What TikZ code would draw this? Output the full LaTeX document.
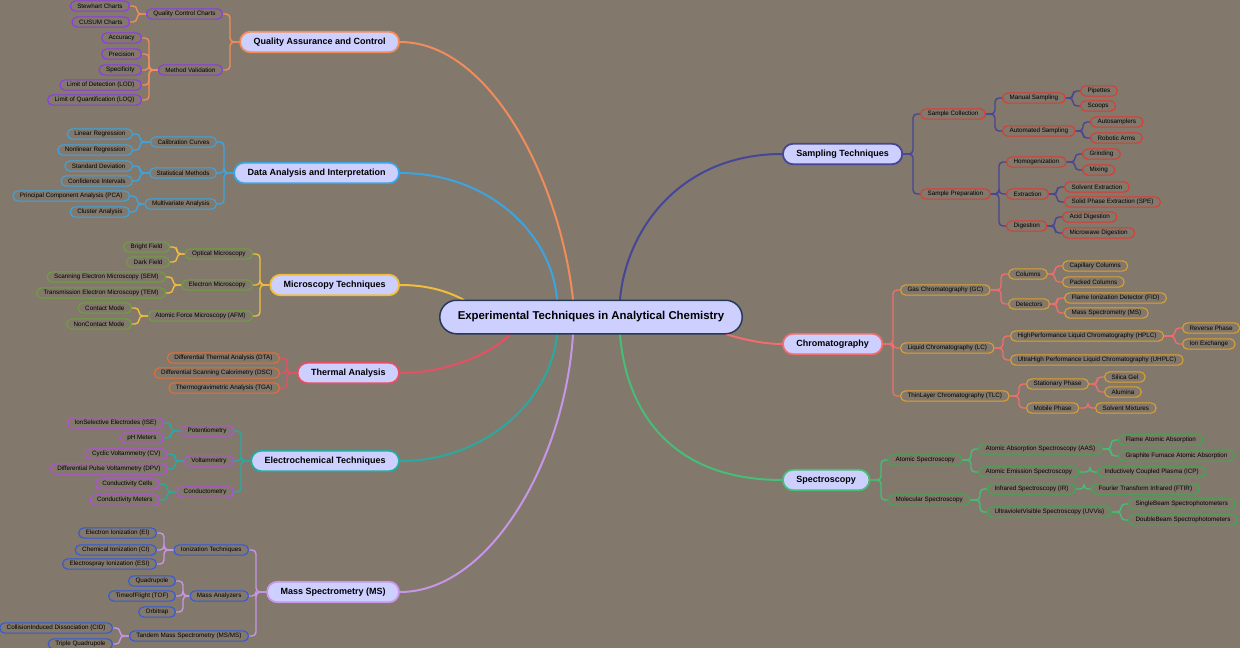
\documentclass[tikz,border=0pt]{standalone}
\usepackage{fontspec}
\setmainfont{Liberation Sans}
\usetikzlibrary{backgrounds}

\definecolor{paper}{RGB}{130,120,108}
\definecolor{topicfill}{RGB}{205,208,255}
\definecolor{rootline}{RGB}{38,58,88}
\definecolor{qaline}{RGB}{242,140,90}
\definecolor{qaitem}{RGB}{140,60,230}
\definecolor{daline}{RGB}{60,165,225}
\definecolor{mcline}{RGB}{240,190,60}
\definecolor{mcitem}{RGB}{110,160,60}
\definecolor{thline}{RGB}{230,80,100}
\definecolor{thitem}{RGB}{230,110,50}
\definecolor{ecline}{RGB}{40,170,160}
\definecolor{ecitem}{RGB}{180,80,220}
\definecolor{msline}{RGB}{200,150,230}
\definecolor{msitem}{RGB}{50,90,220}
\definecolor{saline}{RGB}{70,70,150}
\definecolor{saitem}{RGB}{220,60,50}
\definecolor{chline}{RGB}{240,110,110}
\definecolor{chitem}{RGB}{220,160,50}
\definecolor{spline}{RGB}{70,190,120}
\definecolor{spitem}{RGB}{60,170,80}

\tikzset{
	root/.style={draw=rootline, fill=topicfill, line width=1.5pt, rounded corners=16.7pt,
		minimum height=33.5pt, inner xsep=18pt, inner ysep=0pt, font=\fontsize{11.4}{13}\selectfont\bfseries},
	topic/.style={fill=topicfill, line width=1.8pt, rounded corners=10.2pt,
		minimum height=20.5pt, inner xsep=13.5pt, inner ysep=0pt, font=\fontsize{9}{10}\selectfont\bfseries},
	item/.style={line width=1.1pt, rounded corners=5.1pt, minimum height=10.3pt,
		inner xsep=7pt, inner ysep=0pt, font=\fontsize{6.3}{7}\selectfont, text=black},
	litem/.style={item, anchor=east},
	ritem/.style={item, anchor=west},
	qa/.style={litem, draw=qaitem},
	da/.style={litem, draw=daline},
	mc/.style={litem, draw=mcitem},
	th/.style={litem, draw=thitem},
	ec/.style={litem, draw=ecitem},
	ms/.style={litem, draw=msitem},
	sa/.style={ritem, draw=saitem},
	ch/.style={ritem, draw=chitem},
	sp/.style={ritem, draw=spitem},
	branch/.style={line width=2pt},
	elbow/.style={line width=1.4pt, rounded corners=4pt},
}

\begin{document}
\begin{tikzpicture}[x=1pt, y=-1pt]

	\useasboundingbox (0,0) rectangle (1240,648);

	% centre
	\node[root] (root) at (591,317) {Experimental Techniques in Analytical Chemistry};

	% Quality Assurance and Control
	\node[topic, draw=qaline, anchor=east] (qac) at (400,42) {Quality Assurance and Control};
	\node[qa] (qcc) at (223,14) {Quality Control Charts};
	\node[qa] (mval) at (223,70) {Method Validation};
	\node[qa] (stew) at (130,6) {Stewhart Charts};
	\node[qa] (cusum) at (130,22) {CUSUM Charts};
	\node[qa] (accu) at (142,38) {Accuracy};
	\node[qa] (prec) at (142,54) {Precision};
	\node[qa] (speci) at (142,70) {Specificity};
	\node[qa] (lod) at (142,85) {Limit of Detection (LOD)};
	\node[qa] (loq) at (142,100) {Limit of Quantification (LOQ)};

	% Data Analysis and Interpretation
	\node[topic, draw=daline, anchor=east] (dai) at (400,173) {Data Analysis and Interpretation};
	\node[da] (calib) at (217,142) {Calibration Curves};
	\node[da] (stat) at (217,173) {Statistical Methods};
	\node[da] (multi) at (217,204) {Multivariate Analysis};
	\node[da] (linreg) at (133,134) {Linear Regression};
	\node[da] (nonreg) at (133,150) {Nonlinear Regression};
	\node[da] (stdev) at (133,166) {Standard Deviation};
	\node[da] (confint) at (133,181) {Confidence Intervals};
	\node[da] (pca) at (130,196) {Principal Component Analysis (PCA)};
	\node[da] (cluster) at (130,212) {Cluster Analysis};

	% Microscopy Techniques
	\node[topic, draw=mcline, anchor=east] (micro) at (400,285) {Microscopy Techniques};
	\node[mc] (optic) at (253,254) {Optical Microscopy};
	\node[mc] (elmic) at (253,285) {Electron Microscopy};
	\node[mc] (afm) at (253,316) {Atomic Force Microscopy (AFM)};
	\node[mc] (bright) at (170,247) {Bright Field};
	\node[mc] (dark) at (170,262) {Dark Field};
	\node[mc] (sem) at (166,277) {Scanning Electron Microscopy (SEM)};
	\node[mc] (tem) at (166,293) {Transmission Electron Microscopy (TEM)};
	\node[mc] (contact) at (132,308) {Contact Mode};
	\node[mc] (noncontact) at (132,324) {NonContact Mode};

	% Thermal Analysis
	\node[topic, draw=thline, anchor=east] (thermal) at (400,373) {Thermal Analysis};
	\node[th] (dta) at (280,358) {Differential Thermal Analysis (DTA)};
	\node[th] (dsc) at (280,373) {Differential Scanning Calorimetry (DSC)};
	\node[th] (tga) at (280,388) {Thermogravimetric Analysis (TGA)};

	% Electrochemical Techniques
	\node[topic, draw=ecline, anchor=east] (electro) at (400,461) {Electrochemical Techniques};
	\node[ec] (potent) at (234,431) {Potentiometry};
	\node[ec] (voltam) at (234,461) {Voltammetry};
	\node[ec] (conduct) at (234,492) {Conductometry};
	\node[ec] (ise) at (164,423) {IonSelective Electrodes (ISE)};
	\node[ec] (phm) at (164,438) {pH Meters};
	\node[ec] (cv) at (168,454) {Cyclic Voltammetry (CV)};
	\node[ec] (dpv) at (168,469) {Differential Pulse Voltammetry (DPV)};
	\node[ec] (ccells) at (160,484) {Conductivity Cells};
	\node[ec] (cmeters) at (160,500) {Conductivity Meters};

	% Mass Spectrometry
	\node[topic, draw=msline, anchor=east] (mass) at (400,592) {Mass Spectrometry (MS)};
	\node[ms] (ionize) at (249,550) {Ionization Techniques};
	\node[ms] (analyz) at (249,596) {Mass Analyzers};
	\node[ms] (tandem) at (249,636) {Tandem Mass Spectrometry (MS/MS)};
	\node[ms] (ei) at (157,533) {Electron Ionization (EI)};
	\node[ms] (ci) at (157,550) {Chemical Ionization (CI)};
	\node[ms] (esi) at (157,564) {Electrospray Ionization (ESI)};
	\node[ms] (quad) at (176,581) {Quadrupole};
	\node[ms] (tof) at (176,596) {TimeofFlight (TOF)};
	\node[ms] (orbi) at (176,612) {Orbitrap};
	\node[ms] (cid) at (113,628) {CollisionInduced Dissociation (CID)};
	\node[ms] (triple) at (113,644) {Triple Quadrupole};

	% Sampling Techniques
	\node[topic, draw=saline, anchor=west] (sampling) at (782,154) {Sampling Techniques};
	\node[sa] (scoll) at (920,114) {Sample Collection};
	\node[sa] (sprep) at (920,194) {Sample Preparation};
	\node[sa] (manual) at (1002,98) {Manual Sampling};
	\node[sa] (auto) at (1002,131) {Automated Sampling};
	\node[sa] (pipet) at (1080,91) {Pipettes};
	\node[sa] (scoop) at (1080,106) {Scoops};
	\node[sa] (autosam) at (1090,122) {Autosamplers};
	\node[sa] (robot) at (1090,138) {Robotic Arms};
	\node[sa] (homog) at (1006,162) {Homogenization};
	\node[sa] (extract) at (1006,194) {Extraction};
	\node[sa] (digest) at (1006,226) {Digestion};
	\node[sa] (grind) at (1082,154) {Grinding};
	\node[sa] (mix) at (1082,170) {Mixing};
	\node[sa] (solvext) at (1064,187) {Solvent Extraction};
	\node[sa] (spe) at (1064,202) {Solid Phase Extraction (SPE)};
	\node[sa] (acid) at (1062,217) {Acid Digestion};
	\node[sa] (mwave) at (1062,233) {Microwave Digestion};

	% Chromatography
	\node[topic, draw=chline, anchor=west] (chrom) at (782,344) {Chromatography};
	\node[ch] (gc) at (900,290) {Gas Chromatography (GC)};
	\node[ch] (lc) at (900,348) {Liquid Chromatography (LC)};
	\node[ch] (tlc) at (900,396) {ThinLayer Chromatography (TLC)};
	\node[ch] (columns) at (1008,274) {Columns};
	\node[ch] (detect) at (1008,304) {Detectors};
	\node[ch] (capil) at (1062,266) {Capillary Columns};
	\node[ch] (packed) at (1062,282) {Packed Columns};
	\node[ch] (fid) at (1064,298) {Flame Ionization Detector (FID)};
	\node[ch] (msdet) at (1064,313) {Mass Spectrometry (MS)};
	\node[ch] (hplc) at (1010,336) {HighPerformance Liquid Chromatography (HPLC)};
	\node[ch] (uhplc) at (1010,360) {UltraHigh Performance Liquid Chromatography (UHPLC)};
	\node[ch] (revph) at (1182,328) {Reverse Phase};
	\node[ch] (ionex) at (1182,344) {Ion Exchange};
	\node[ch] (statph) at (1026,384) {Stationary Phase};
	\node[ch] (mobph) at (1026,408) {Mobile Phase};
	\node[ch] (silica) at (1104,377) {Silica Gel};
	\node[ch] (alumina) at (1104,392) {Alumina};
	\node[ch] (solvmix) at (1095,408) {Solvent Mixtures};

	% Spectroscopy
	\node[topic, draw=spline, anchor=west] (spectro) at (782,480) {Spectroscopy};
	\node[sp] (atomic) at (888,460) {Atomic Spectroscopy};
	\node[sp] (molec) at (888,500) {Molecular Spectroscopy};
	\node[sp] (aas) at (978,449) {Atomic Absorption Spectroscopy (AAS)};
	\node[sp] (aes) at (978,472) {Atomic Emission Spectroscopy};
	\node[sp] (flame) at (1118,440) {Flame Atomic Absorption};
	\node[sp] (graph) at (1118,456) {Graphite Furnace Atomic Absorption};
	\node[sp] (icp) at (1097,472) {Inductively Coupled Plasma (ICP)};
	\node[sp] (ir) at (987,489) {Infrared Spectroscopy (IR)};
	\node[sp] (uvvis) at (987,512) {UltravioletVisible Spectroscopy (UVVis)};
	\node[sp] (ftir) at (1091,489) {Fourier Transform Infrared (FTIR)};
	\node[sp] (single) at (1128,504) {SingleBeam Spectrophotometers};
	\node[sp] (double) at (1128,520) {DoubleBeam Spectrophotometers};

	% brackets, left side
	\foreach \p/\c in {qac/qcc, qac/mval, qcc/stew, qcc/cusum, mval/accu, mval/prec, mval/speci, mval/lod, mval/loq}
		\draw[elbow, qaline] (\p.west) -| ([xshift=7pt]\c.east) -- (\c.east);
	\foreach \p/\c in {dai/calib, dai/stat, dai/multi, calib/linreg, calib/nonreg, stat/stdev, stat/confint, multi/pca, multi/cluster}
		\draw[elbow, daline] (\p.west) -| ([xshift=7pt]\c.east) -- (\c.east);
	\foreach \p/\c in {micro/optic, micro/elmic, micro/afm, optic/bright, optic/dark, elmic/sem, elmic/tem, afm/contact, afm/noncontact}
		\draw[elbow, mcline] (\p.west) -| ([xshift=7pt]\c.east) -- (\c.east);
	\foreach \p/\c in {thermal/dta, thermal/dsc, thermal/tga}
		\draw[elbow, thline] (\p.west) -| ([xshift=7pt]\c.east) -- (\c.east);
	\foreach \p/\c in {electro/potent, electro/voltam, electro/conduct, potent/ise, potent/phm, voltam/cv, voltam/dpv, conduct/ccells, conduct/cmeters}
		\draw[elbow, ecline] (\p.west) -| ([xshift=7pt]\c.east) -- (\c.east);
	\foreach \p/\c in {mass/ionize, mass/analyz, mass/tandem, ionize/ei, ionize/ci, ionize/esi, analyz/quad, analyz/tof, analyz/orbi, tandem/cid, tandem/triple}
		\draw[elbow, msline] (\p.west) -| ([xshift=7pt]\c.east) -- (\c.east);

	% brackets, right side
	\foreach \p/\c in {sampling/scoll, sampling/sprep, scoll/manual, scoll/auto, manual/pipet, manual/scoop, auto/autosam, auto/robot, sprep/homog, sprep/extract, sprep/digest, homog/grind, homog/mix, extract/solvext, extract/spe, digest/acid, digest/mwave}
		\draw[elbow, saline] (\p.east) -| ([xshift=-7pt]\c.west) -- (\c.west);
	\foreach \p/\c in {chrom/gc, chrom/lc, chrom/tlc, gc/columns, gc/detect, columns/capil, columns/packed, detect/fid, detect/msdet, lc/hplc, lc/uhplc, hplc/revph, hplc/ionex, tlc/statph, tlc/mobph, statph/silica, statph/alumina, mobph/solvmix}
		\draw[elbow, chline] (\p.east) -| ([xshift=-7pt]\c.west) -- (\c.west);
	\foreach \p/\c in {spectro/atomic, spectro/molec, atomic/aas, atomic/aes, aas/flame, aas/graph, aes/icp, molec/ir, molec/uvvis, ir/ftir, uvvis/single, uvvis/double}
		\draw[elbow, spline] (\p.east) -| ([xshift=-7pt]\c.west) -- (\c.west);

	\begin{pgfonlayer}{background}
		\fill[paper] (0,0) rectangle (1240,648);

		% main branches
		\draw[branch, qaline] ([xshift=-18pt]root.center) -- ([xshift=-18pt]root.north) .. controls (560,180) and (490,42) .. (qac.east);
		\draw[branch, daline] ([xshift=-34pt]root.center) -- ([xshift=-34pt]root.north) .. controls (552,235) and (490,173) .. (dai.east);
		\draw[branch, mcline] ([xshift=-110pt]root.center) -- ([xshift=-128pt]root.north) .. controls (445,290) and (425,285) .. (micro.east);
		\draw[branch, thline] ([xshift=-70pt]root.center) -- ([xshift=-81pt]root.south) .. controls (490,355) and (445,373) .. (thermal.east);
		\draw[branch, ecline] ([xshift=-34pt]root.center) -- ([xshift=-34pt]root.south) .. controls (552,395) and (490,461) .. (electro.east);
		\draw[branch, msline] ([xshift=-18pt]root.center) -- ([xshift=-18pt]root.south) .. controls (565,460) and (490,592) .. (mass.east);
		\draw[branch, saline] ([xshift=29pt]root.center) -- ([xshift=29pt]root.north) .. controls (626,230) and (680,154) .. (sampling.west);
		\draw[branch, chline] ([xshift=110pt]root.center) -- ([xshift=136pt]root.south) .. controls (745,340) and (765,344) .. (chrom.west);
		\draw[branch, spline] ([xshift=29pt]root.center) -- ([xshift=29pt]root.south) .. controls (626,410) and (670,480) .. (spectro.west);
	\end{pgfonlayer}

\end{tikzpicture}
\end{document}
